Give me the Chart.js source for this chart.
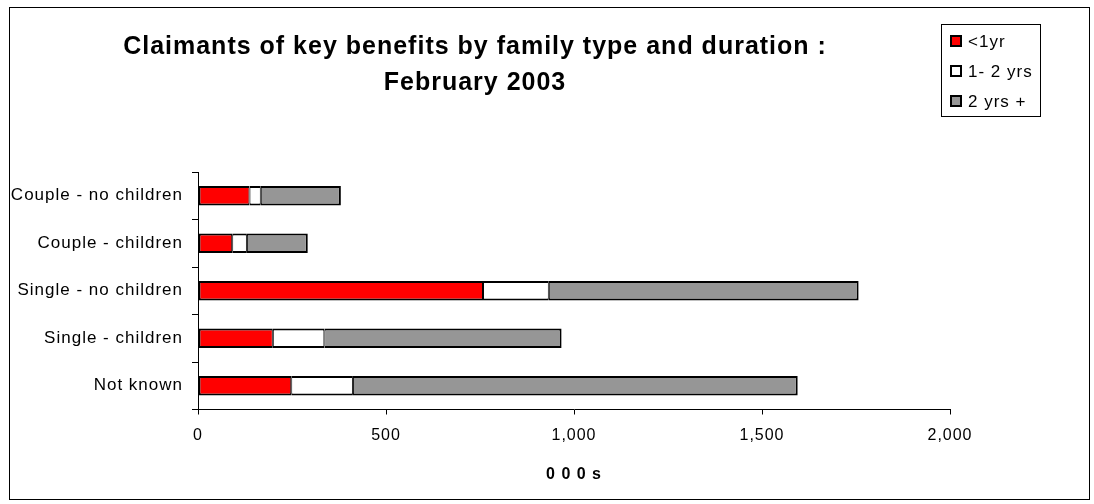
<!DOCTYPE html>
<html>
<head>
<meta charset="utf-8">
<script src="https://cdn.jsdelivr.net/npm/chart.js@4.4.1/dist/chart.umd.min.js"></script>
<style>
  body { margin: 0; background: #ffffff; }
  #wrap { width: 1094px; height: 504px; position: relative; }
</style>
</head>
<body>
<div id="wrap"><canvas id="claimChart"></canvas></div>
<script>
var familyTypes = ["Couple - no children", "Couple - children", "Single - no children", "Single - children", "Not known"];
var seriesNames = ["<1yr", "1- 2 yrs", "2 yrs +"];
var underOneYear = [137, 91, 758, 199, 248];
var oneToTwoYears = [30, 39, 175, 137, 164];
var twoYearsPlus = [213, 162, 824, 631, 1183];
var xTicks = [0, 500, 1000, 1500, 2000];

var FONT = "'Liberation Sans', Arial, sans-serif";

// the source picture has loosely spaced lettering
var spacingPlugin = {
  id: "spacing",
  beforeUpdate: function (chart) { chart.ctx.letterSpacing = "1px"; },
  beforeDraw: function (chart) { chart.ctx.letterSpacing = "1px"; }
};

// outer frame round the whole chart
var framePlugin = {
  id: "frame",
  beforeDraw: function (chart) {
    var ctx = chart.ctx;
    ctx.save();
    ctx.fillStyle = "#ffffff";
    ctx.fillRect(0, 0, chart.width, chart.height);
    ctx.strokeStyle = "#000000";
    ctx.lineWidth = 1;
    ctx.strokeRect(9.5, 7.5, 1080, 492);
    ctx.restore();
  }
};

// boxed legend in the top right corner, built from the datasets
var boxLegendPlugin = {
  id: "boxLegend",
  afterDraw: function (chart) {
    var ctx = chart.ctx;
    ctx.save();
    ctx.strokeStyle = "#000000";
    ctx.lineWidth = 1;
    ctx.strokeRect(941.5, 24.5, 99, 92);
    ctx.font = "17px " + FONT;
    ctx.textBaseline = "middle";
    chart.data.datasets.forEach(function (ds, i) {
      var y = 41 + i * 30;
      ctx.fillStyle = ds.backgroundColor;
      ctx.fillRect(951, y - 5, 10, 10);
      ctx.lineWidth = 2;
      ctx.strokeStyle = "#000000";
      ctx.strokeRect(951, y - 5, 10, 10);
      ctx.fillStyle = "#000000";
      ctx.fillText(ds.label, 968, y + 1);
    });
    ctx.restore();
  }
};

function makeDataset(label, values, colour, leftW, rightW) {
  return {
    label: label,
    data: values,
    backgroundColor: colour,
    borderColor: "#000000",
    borderWidth: { top: 2, bottom: 2, left: leftW, right: rightW },
    borderSkipped: false,
    barPercentage: 0.41,
    categoryPercentage: 1.0
  };
}

var ctx = document.getElementById("claimChart");
new Chart(ctx, {
  type: "bar",
  data: {
    labels: familyTypes,
    datasets: [
      makeDataset(seriesNames[0], underOneYear, "#ff0000", 2, 1),
      makeDataset(seriesNames[1], oneToTwoYears, "#ffffff", 1, 1),
      makeDataset(seriesNames[2], twoYearsPlus, "#969696", 1, 2)
    ]
  },
  options: {
    indexAxis: "y",
    responsive: true,
    maintainAspectRatio: false,
    animation: false,
    layout: { padding: { left: 0, right: 144, top: 0, bottom: 0 } },
    plugins: {
      legend: { display: false },
      tooltip: { enabled: false },
      title: {
        display: true,
        text: ["Claimants of key benefits by family type and duration :", "February 2003"],
        color: "#000000",
        font: { family: FONT, size: 25, weight: "bold", lineHeight: "36px" },
        padding: { top: 29, bottom: 71 }
      }
    },
    scales: {
      x: {
        stacked: true,
        min: 0,
        max: 2000,
        afterBuildTicks: function (scale) {
          scale.ticks = xTicks.map(function (v) { return { value: v }; });
        },
        afterFit: function (scale) { scale.height = 94.5; },
        grid: { display: true, drawOnChartArea: false, drawTicks: true, tickLength: 5, color: "#000000" },
        border: { display: true, color: "#000000", width: 1 },
        ticks: {
          color: "#000000",
          padding: 11,
          font: { family: FONT, size: 16 },
          callback: function (v) { return Number(v).toLocaleString("en-US"); }
        },
        title: {
          display: true,
          text: "0 0 0 s",
          color: "#000000",
          font: { family: FONT, size: 16, weight: "bold" },
          padding: { top: 0, bottom: 20 }
        }
      },
      y: {
        stacked: true,
        afterFit: function (scale) { scale.width = 198; },
        grid: { display: true, offset: true, drawOnChartArea: false, drawTicks: true, tickLength: 6, color: "#000000" },
        border: { display: true, color: "#000000", width: 1 },
        ticks: {
          color: "#000000",
          padding: 9,
          font: { family: FONT, size: 17 }
        }
      }
    }
  },
  plugins: [spacingPlugin, framePlugin, boxLegendPlugin]
});
</script>
</body>
</html>
